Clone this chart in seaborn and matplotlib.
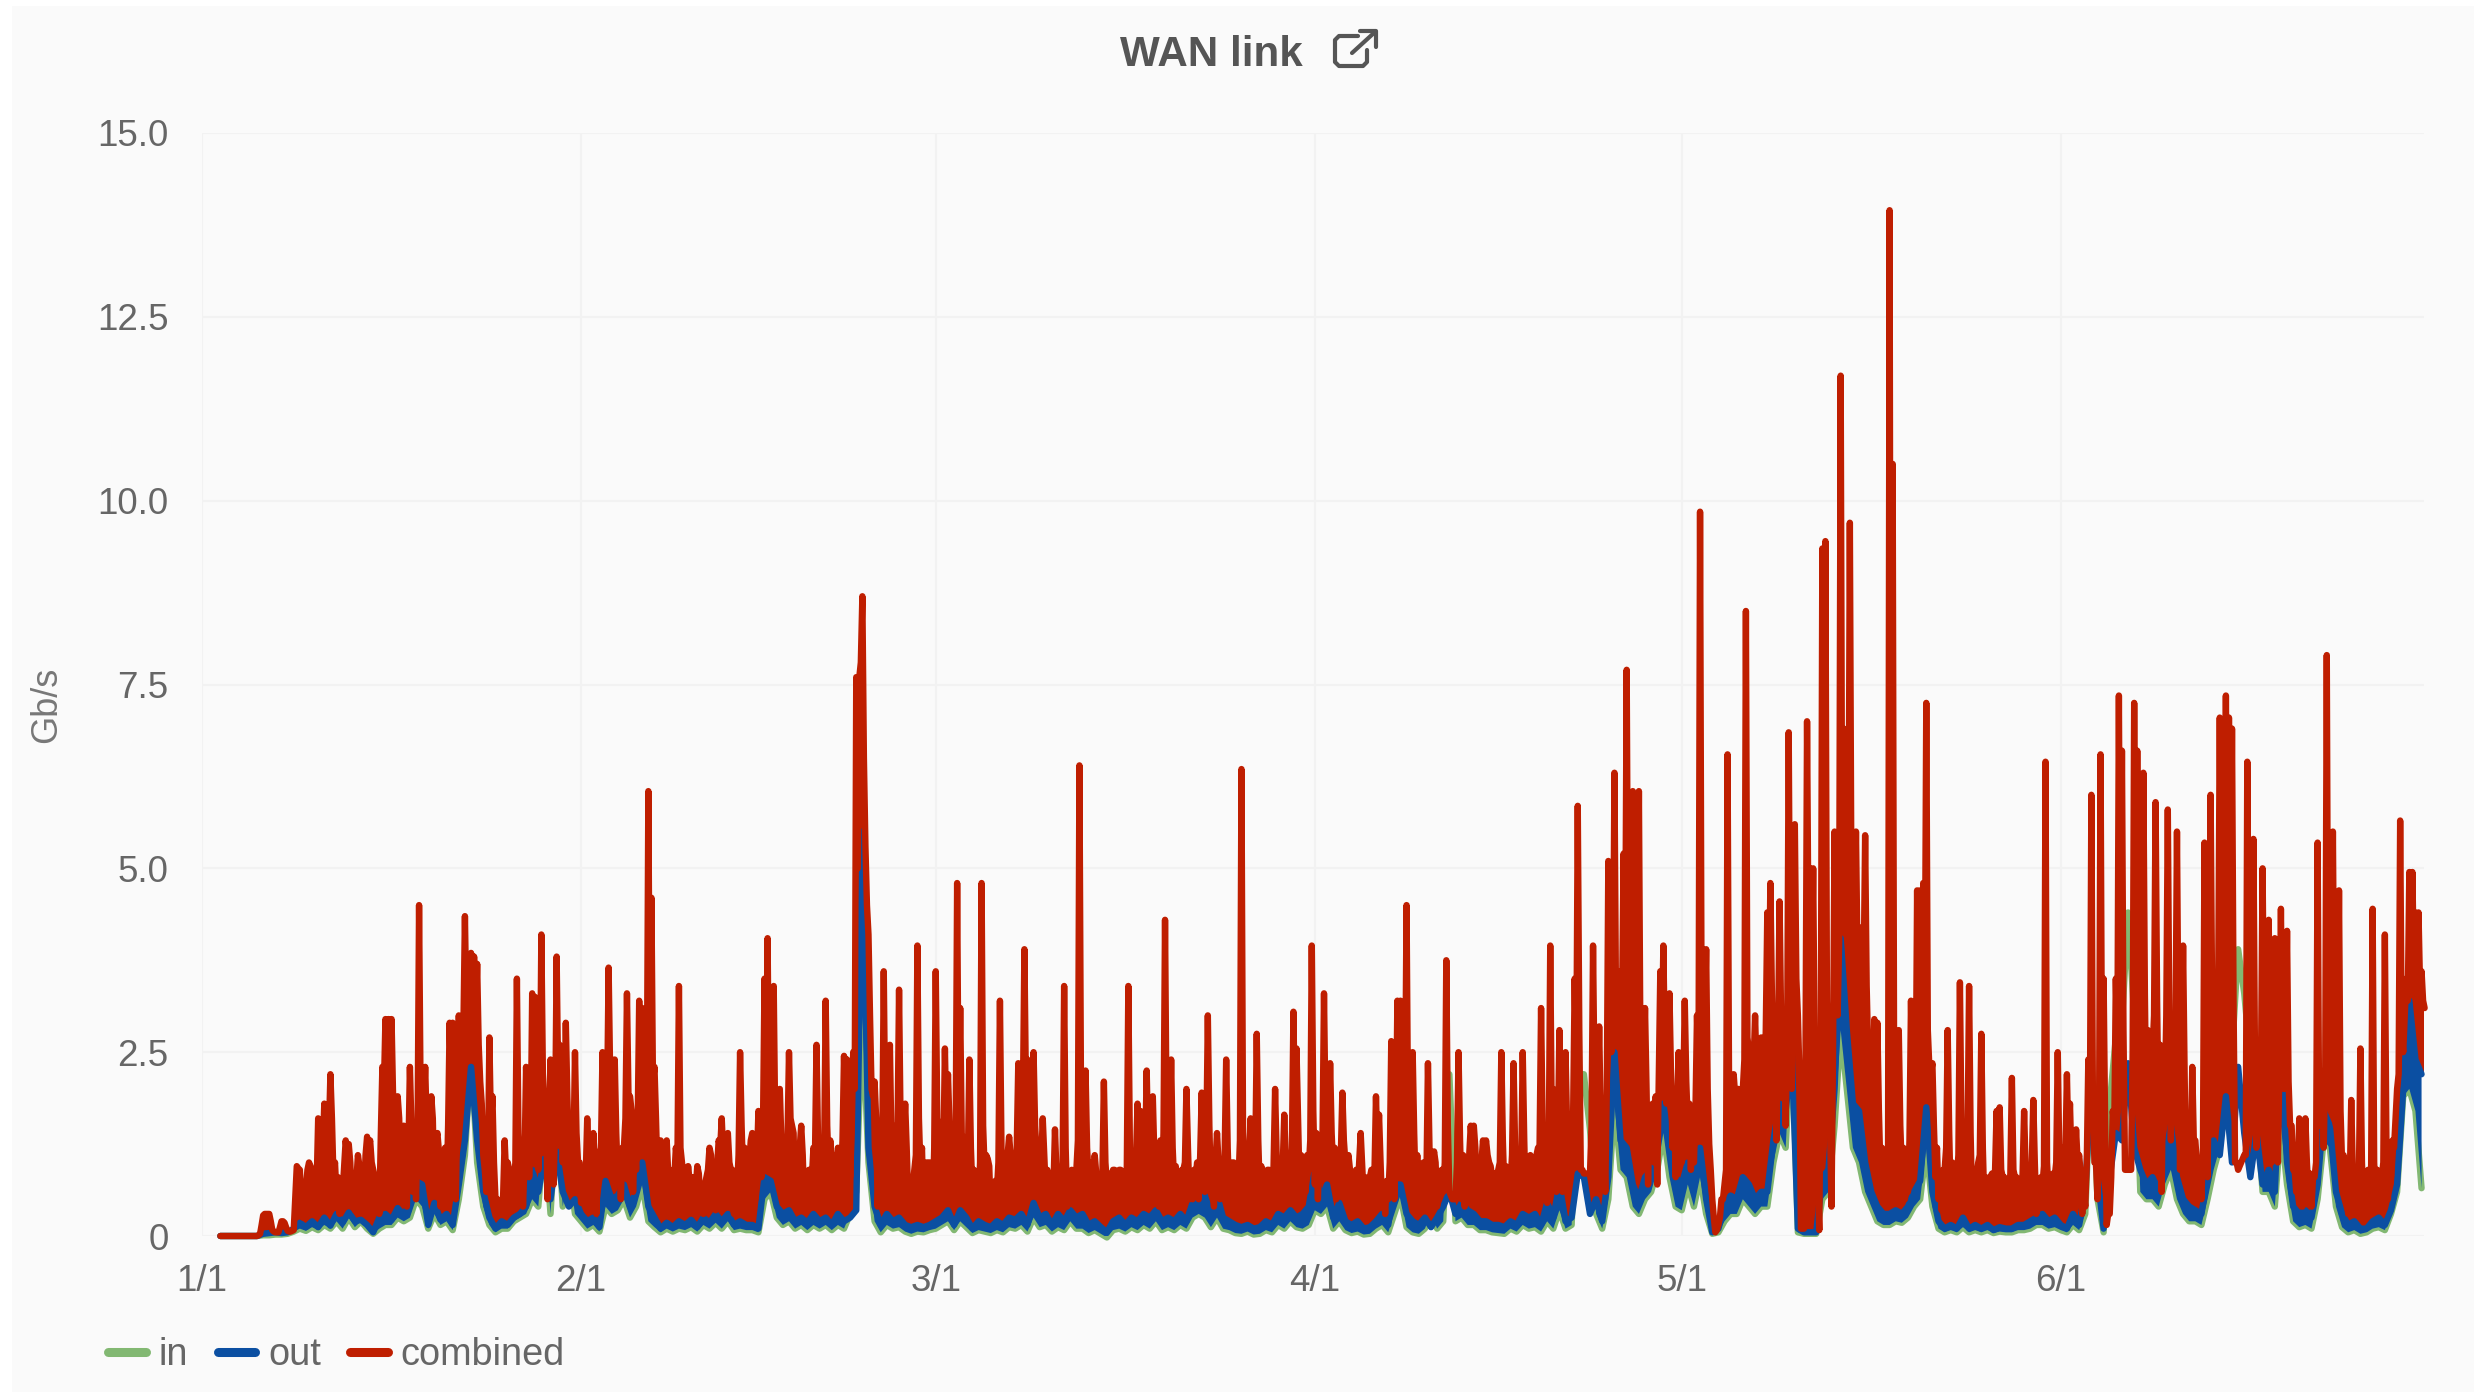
import matplotlib
matplotlib.use("Agg")
import matplotlib.pyplot as plt
from matplotlib.lines import Line2D
from matplotlib.patches import Rectangle
import numpy as np
import pandas as pd
import seaborn as sns

# readings start on day 1.5 of the year
# combined: spikes read at 00/06/12/18h, and the solid mass under them at 03/09/15/21h
combined_vals = [
    0, 0,
    0, 0, 0, 0,  0, 0, 0, 0,  0, 0, 0, .03,
    .28, .3, .3, .08,  .05, .05, .2, .18,  .07, .06, .08, .95,  .9, .25, .65, 1.0,
    .9, .28, 1.6, .6,  1.8, .9, 2.2, .8,  .55, .3, .6, 1.3,  1.25, .5, .35, 1.1,
    .55, .5, 1.35, 1.3,  .9, .4, .3, 2.3,  2.95, 2.95, 2.95, 1.4,  1.9, .5, 1.5, .4,
    2.3, .6, .5, 4.5,  .8, 2.3, 1.1, 1.9,  .6, 1.4, .4, .5,  .55, 2.9, 2.9, .5,
    3.0, 2.5, 4.35, 2.6,  3.85, 3.8, 3.7, 2.1,  1.1, .6, 2.7, 1.9,  .5, .28, .45, 1.3,
    1.0, .4, .7, 3.5,  .75, .4, 2.3, .8,  3.3, 3.25, .9, 4.1,  1.6, .5, 2.4, .7,
    3.8, 2.6, 1.0, 2.9,  1.1, .6, 2.5, 1.0,  .45, .5, 1.6, .4,  1.4, .3, 1.1, 2.5,
    1.5, 3.65, 2.4, 2.4,  .8, .5, 1.2, 3.3,  1.9, .6, .9, 3.2,  3.1, 1.2, 6.05, 4.6,
    2.3, .8, 1.3, .6,  1.3, .5, .9, 1.2,  3.4, 1.0, .35, .95,  .7, .3, .95, .5,
    .3, .8, 1.2, .5,  .35, 1.3, 1.6, .5,  1.4, .9, .3, .6,  2.5, .8, .4, 1.0,
    1.4, .5, 1.7, .8,  3.5, 4.05, 1.2, 3.4,  .9, 2.0, .5, .9,  2.5, 1.5, .5, 1.0,
    1.5, .4, .7, .4,  1.2, 2.6, .7, .5,  3.2, .9, 1.0, .4,  1.2, .7, 2.45, 2.4,
    .8, 2.5, 7.6, 7.6,  8.7, 5.3, 4.1, 2.0,  2.1, .4, .6, 3.6,  1.0, 2.6, .45, 1.5,
    3.35, .8, 1.8, .5,  .3, .9, 3.95, .9,  .3, 1.0, 1.0, .3,  3.6, 1.5, .5, 2.55,
    2.2, .7, .5, 4.8,  3.1, 1.2, .5, 2.4,  .6, .4, .5, 4.8,  .9, 1.05, .3, .4,
    .6, 3.2, .5, .5,  1.35, .7, .5, 2.35,  2.2, 3.9, 2.4, 1.1,  2.5, 1.1, .6, 1.6,
    .6, .4, .35, 1.45,  .5, .4, 3.4, .4,  .7, .45, .9, 6.4,  1.2, 2.25, .8, .45,
    1.1, .5, .35, 2.1,  .7, .4, .9, .5,  .9, .4, .5, 3.4,  .8, .45, 1.8, 1.7,
    .5, 2.25, .5, 1.9,  .6, .4, .7, 4.3,  .9, 2.4, .7, .4,  .5, .9, 2.0, .5,
    .5, .8, .5, 1.95,  .6, 3.0, .6, .4,  1.4, .5, .6, 2.4,  .5, 1.0, .4, .7,
    6.35, .9, .5, 1.6,  .45, 2.75, .6, .35,  .6, .9, .4, 2.0,  .5, .4, 1.65, .5,
    .6, 3.05, 2.55, .7,  .45, .6, .9, 3.95,  .7, .5, 1.2, 3.3,  .8, 2.35, .9, .5,
    .8, 1.95, 1.0, 1.1,  .45, .5, .6, 1.4,  .5, .35, .8, .4,  1.9, 1.65, .4, .3,
    .5, 2.65, .5, 3.2,  3.2, 1.8, 4.5, .7,  2.5, .6, .4, .7,  .35, 2.35, .5, 1.15,
    .4, .7, .6, 3.75,  .6, .5, .5, 2.5,  .5, .4, 1.0, 1.5,  1.5, .6, .7, 1.3,
    1.3, 1.0, .8, .4,  .9, 2.5, .6, .35,  .7, 2.35, .5, .4,  2.5, .4, 1.0, .5,
    .8, 1.2, 3.1, .9,  .45, 3.95, 2.0, .6,  2.8, .6, 2.5, .8,  1.0, 3.5, 5.85, .9,
    .85, .85, .85, 3.95,  1.0, 2.85, .8, .6,  5.1, 2.5, 6.3, 3.0,  3.6, 5.2, 7.7, 3.2,
    6.05, 2.5, 6.05, 1.5,  3.1, .7, 1.3, 1.0,  .7, 3.6, 3.95, 1.8,  3.3, 1.2, .8, 2.5,
    1.0, 3.2, 1.5, .9,  1.0, 3.0, 9.85, 3.9,  3.9, 1.25, .5, .05,  .15, .5, .7, 6.55,
    1.0, 2.2, 1.3, 1.5,  2.0, 8.5, 2.5, 1.5,  3.0, 1.2, 2.7, 1.7,  4.4, 4.8, 2.0, 1.3,
    4.55, 3.0, 1.5, 6.85,  2.0, 5.6, 3.0, .1,  .1, 7.0, 5.0, 5.0,  2.0, .08, 9.35, 9.45,
    2.0, .4, 5.5, 3.0,  11.7, 6.9, 5.0, 9.7,  4.5, 5.5, 3.0, 4.2,  5.45, 2.5, 1.3, 2.95,
    2.9, .9, .6, .5,  13.95, 10.5, .6, 2.8,  .9, .5, .6, 3.2,  1.4, 4.7, 4.7, 4.8,
    7.25, 2.3, 2.35, .8,  .5, .35, .9, 2.8,  .5, .3, .8, 3.45,  1.2, .5, 3.4, .4,
    .4, 1.0, 2.75, .4,  .5, .8, .3, 1.7,  1.75, .8, .4, .5,  2.15, .8, .3, .5,
    1.7, .5, .8, 1.85,  .3, .4, .7, 6.45,  .6, .5, .8, 2.5,  .4, 1.2, 2.2, 1.8,
    .5, 1.45, 1.1, .3,  .4, 2.4, 6.0, 1.0,  .5, 6.55, 3.5, .15,  .3, 1.7, 3.5, 7.35,
    6.6, .9, .9, .9,  7.25, 6.6, 1.5, 6.3,  1.5, 1.0, 2.5, 5.9,  1.5, .6, 1.8, 5.8,
    1.3, 1.6, 5.5, .9,  3.95, .7, .6, 2.3,  1.3, .5, .5, 5.35,  .8, 6.0, 3.0, 2.5,
    7.05, 5.0, 7.35, 7.05,  6.9, 1.0, .9, 1.0,  1.1, 6.45, 2.0, 5.4,  1.2, 1.5, 5.0, 1.3,
    4.3, 1.0, 4.05, 1.0,  4.45, 2.0, 4.15, 1.5,  .9, .6, 1.6, .4,  1.6, .6, .4, .8,
    5.35, 1.5, 1.2, 7.9,  3.5, 5.5, 1.5, 4.7,  1.0, .5, .3, 1.85,  .4, .3, 2.55, .4,
    .5, .4, 4.45, .5,  .35, .8, 4.1, .5,  .8, 1.2, 2.0, 5.65,  2.5, 3.5, 4.95, 4.95,
    4.4, 4.4, 3.6, 3.1,
]
combined_mass = [
    0, 0,
    0, 0, 0, 0,  0, 0, 0, 0,  0, 0, .01, .15,
    .3, .3, .2, .06,  .05, .12, .2, .12,  .06, .07, .5, .92,  .5, .5, .9, .95,
    .85, .7, 1.0, 1.15,  1.5, 1.4, 1.6, 1.0,  .8, .7, .95, 1.1,  1.0, .8, .75, .95,
    .85, 1.1, 1.2, 1.0,  .8, .6, 1.4, 2.0,  2.3, 2.1, 1.9, 1.7,  1.6, 1.3, 1.2, 1.1,
    1.5, 1.2, 1.35, 1.9,  1.7, 1.5, 1.4, 1.6,  1.3, 1.15, 1.0, 1.2,  1.5, 2.0, 1.7, 1.6,
    2.2, 2.8, 3.0, 2.9,  3.2, 2.9, 2.6, 1.8,  .9, .8, 1.5, 1.0,  .5, .4, .55, .8,
    .9, .7, 1.0, 1.4,  1.2, 1.0, 1.5, 1.3,  1.9, 2.0, 1.7, 2.2,  1.9, 1.6, 1.8, 1.5,
    2.1, 1.9, 1.6, 1.9,  1.3, 1.1, 1.4, 1.0,  .85, .8, 1.0, .75,  1.0, .9, 1.2, 1.5,
    1.8, 2.2, 1.9, 1.4,  1.1, 1.2, 1.6, 1.9,  1.7, 1.3, 1.5, 1.9,  2.0, 1.9, 2.3, 2.1,
    1.6, 1.2, 1.1, .95,  .85, .7, .8, 1.0,  1.2, .8, .6, .75,  .8, .65, .85, .6,
    .7, .9, 1.1, .8,  .95, 1.2, 1.1, 1.0,  1.0, .9, .7, 1.1,  1.5, 1.2, 1.0, 1.3,
    1.2, 1.0, 1.3, 1.5,  1.9, 1.7, 1.6, 1.5,  1.4, 1.3, 1.1, 1.3,  1.6, 1.4, 1.0, 1.2,
    1.1, .85, .9, .8,  1.1, 1.3, 1.0, 1.1,  1.5, 1.3, 1.1, .9,  1.1, 1.3, 1.5, 1.4,
    1.4, 2.0, 5.0, 7.8,  6.5, 4.5, 3.0, 1.9,  1.6, 1.0, 1.2, 1.5,  1.4, 1.3, 1.1, 1.4,
    1.5, 1.3, 1.2, .8,  .7, 1.1, 1.6, 1.2,  .8, 1.0, .75, 1.2,  1.6, 1.2, 1.1, 1.4,
    1.5, 1.1, 1.2, 1.5,  1.4, 1.1, 1.0, 1.2,  .9, .8, 1.0, 1.5,  1.1, .95, .7, .75,
    1.0, 1.2, .9, 1.1,  1.1, .9, 1.2, 1.5,  1.8, 2.0, 1.7, 1.4,  1.5, 1.2, 1.0, 1.1,
    .9, .7, .65, .85,  .7, 1.0, 1.2, .8,  .9, .8, 1.3, 2.0,  1.4, 1.2, 1.0, .8,
    .85, .7, .8, 1.0,  .85, .75, .9, .8,  .9, .7, .95, 1.2,  1.0, 1.05, 1.3, 1.2,
    1.1, 1.2, 1.0, 1.1,  1.2, 1.3, 1.4, 1.6,  1.3, 1.2, .95, .75,  .9, 1.0, 1.2, .85,
    .9, 1.0, 1.1, 1.0,  1.3, 1.5, 1.1, 1.0,  1.0, .85, 1.1, 1.2,  .9, 1.0, .85, 1.3,
    1.5, 1.1, .95, 1.1,  1.0, 1.3, .95, .8,  .9, .85, .95, 1.1,  .85, .95, 1.0, .9,
    1.2, 1.5, 1.6, 1.1,  .9, 1.1, 1.3, 1.7,  1.4, 1.2, 1.3, 1.6,  1.3, 1.4, 1.2, 1.0,
    1.1, 1.3, 1.0, .9,  .75, .9, 1.0, .95,  .8, .7, .9, .85,  1.1, 1.0, .7, .75,
    1.0, 1.5, 1.3, 1.8,  1.9, 1.7, 1.6, 1.3,  1.4, 1.1, .9, 1.0,  .8, 1.2, 1.0, 1.0,
    .85, .9, 1.0, 1.5,  .55, .5, 1.0, 1.3,  1.1, .9, 1.1, 1.2,  1.2, .9, 1.0, 1.1,
    1.1, .95, .85, .8,  1.0, 1.3, .95, .8,  1.1, 1.2, .85, .95,  1.3, 1.0, 1.1, .9,
    1.1, 1.2, 1.5, 1.2,  1.1, 1.5, 1.6, 1.3,  1.5, 1.4, 1.5, 1.3,  1.7, 2.2, 2.8, .9,
    .85, .85, 1.5, 2.0,  1.7, 1.6, 1.5, 2.0,  2.8, 3.0, 3.2, 2.9,  3.2, 3.5, 3.6, 3.1,
    3.0, 2.8, 2.5, 2.2,  2.0, 1.7, 1.8, 1.9,  2.2, 2.6, 2.5, 2.2,  2.2, 1.9, 1.8, 1.9,
    1.9, 2.1, 1.8, 1.6,  1.7, 2.2, 3.0, 2.8,  2.0, .9, .25, .08,  .25, .5, .9, 1.9,
    1.8, 1.9, 2.0, 1.9,  2.4, 2.7, 2.2, 2.3,  2.2, 2.1, 2.6, 2.8,  3.0, 3.3, 2.8, 2.6,
    3.0, 2.8, 2.7, 3.2,  3.0, 3.5, 2.2, .1,  2.5, 3.8, 3.2, 2.5,  .8, 2.5, 3.5, 3.2,
    1.5, 2.5, 3.5, 4.0,  4.8, 4.5, 4.2, 4.8,  4.0, 3.8, 3.6, 3.5,  3.4, 2.2, 2.0, 1.9,
    1.7, 1.2, .9, 1.1,  1.3, 1.8, 1.2, 1.5,  1.2, 1.0, 1.3, 1.8,  1.6, 2.2, 2.6, 3.0,
    2.8, 2.2, 1.5, 1.2,  .85, .9, 1.2, 1.4,  1.0, .85, 1.1, 1.5,  1.2, 1.3, 1.4, .9,
    .85, 1.1, 1.2, .8,  .75, .85, .9, 1.0,  .9, .8, .7, .85,  .9, .8, .7, .85,
    .9, .85, .95, 1.0,  .75, .8, .95, 1.0,  .8, .85, 1.0, 1.1,  .9, 1.1, 1.2, 1.0,
    .9, 1.0, .85, .6,  1.0, 1.5, 1.8, 1.0,  1.4, 1.9, 1.5, .3,  .8, 1.5, 2.5, 3.0,
    2.8, .9, .9, 2.5,  3.2, 3.5, 3.0, 3.3,  2.8, 2.6, 3.0, 3.2,  2.6, 2.4, 3.0, 2.9,
    2.5, 2.7, 2.6, 2.3,  2.2, 1.5, 1.1, 1.3,  1.0, .8, 1.2, 1.9,  2.5, 3.2, 3.4, 3.5,
    3.8, 3.9, 4.2, 3.7,  3.2, 1.0, .95, 1.05,  1.1, 3.0, 2.8, 2.5,  2.2, 2.4, 2.6, 2.3,
    2.5, 2.2, 2.4, 2.3,  2.2, 2.4, 2.1, 1.5,  .9, .85, 1.0, .9,  1.0, .85, .8, 1.0,
    1.5, 2.2, 2.3, 2.4,  2.6, 2.5, 2.0, 1.7,  1.1, .8, .7, .9,  .85, .8, 1.0, .85,
    .9, .85, 1.0, .9,  .85, 1.0, 1.3, 1.2,  1.3, 1.6, 2.2, 2.8,  3.0, 3.2, 3.5, 3.6,
    3.6, 3.4, 3.2,
]

# in and out are read every 12 hours
out_vals = [
    0,
    0, 0, 0, 0, 0, 0, .03, .04, .05, .04, .05, .1, .18, .12, .2, .12,
    .25, .14, .3, .18, .32, .2, .22, .15, .05, .25, .3, .22, .38, .28, .45, .75,
    .7, .15, .45, .22, .3, .15, .7, 1.3, 2.3, 1.3, .6, .25, .1, .2, .15, .25,
    .3, .4, .9, .6, 1.05, .5, 1.15, .6, .4, .5, .3, .2, .25, .12, .75, .5,
    .55, .7, .4, .6, 1.0, .4, .25, .1, .18, .12, .2, .15, .22, .12, .25, .18,
    .3, .2, .3, .15, .2, .15, .15, .1, .8, .75, .4, .3, .35, .2, .25, .18,
    .3, .2, .25, .15, .3, .2, .25, .35, 5.5, 1.2, .4, .15, .3, .2, .25, .15,
    .12, .15, .12, .15, .2, .25, .35, .15, .35, .25, .1, .2, .15, .12, .2, .15,
    .25, .22, .3, .15, .45, .25, .3, .15, .3, .2, .35, .25, .3, .15, .2, .12,
    .05, .2, .25, .15, .25, .2, .3, .25, .35, .2, .25, .2, .3, .2, .45, .6,
    .55, .3, .55, .25, .2, .15, .12, .15, .1, .12, .2, .15, .3, .25, .35, .25,
    .3, .4, .9, .5, .7, .25, .45, .2, .15, .2, .1, .12, .2, .3, .15, .7,
    .7, .3, .2, .15, .25, .12, .25, .4, .6, .3, .45, .35, .3, .2, .2, .15,
    .15, .12, .2, .15, .3, .25, .3, .15, .45, .25, .7, .2, .25, .85, .8, .3,
    .5, .2, .8, 2.5, 1.3, 1.2, .7, .5, .8, .9, 1.3, 1.8, 1.2, .8, .7, 1.0,
    .7, 1.2, .5, .05, .1, .4, .55, .5, .8, .7, .5, .6, .6, 1.3, 1.8, 1.7,
    2.5, .1, .05, .05, .05, .8, .9, 2.0, 4.05, 2.8, 1.8, 1.7, 1.0, .6, .4, .3,
    .3, .35, .3, .4, .6, .75, 1.75, .6, .2, .1, .15, .1, .25, .1, .15, .1,
    .15, .08, .12, .1, .1, .15, .15, .2, .25, .3, .2, .25, .15, .1, .3, .15,
    .6, 2.2, .8, .1, .8, 1.4, 1.3, 2.35, 1.2, .9, .7, .8, .6, 1.0, 1.5, .8,
    .5, .4, .35, .3, .8, 1.3, 1.1, 1.9, 1.0, 2.3, 1.4, .8, 1.4, .7, .9, .6,
    2.45, 1.0, .4, .3, .35, .25, .7, 1.7, 1.5, .6, .3, .15, .2, .1, .1, .2,
    .25, .15, .35, .7, 2.0, 3.2, 2.4, 2.2,
]
in_vals = [
    0,
    0, 0, 0, 0, 0, 0, .01, .01, .02, .02, .03, .06, .1, .07, .12, .08,
    .15, .1, .2, .1, .25, .12, .2, .1, .03, .1, .15, .15, .25, .2, .25, .5,
    .4, .1, .3, .15, .2, .08, .5, 1.1, 2.5, 1.0, .4, .15, .05, .1, .1, .2,
    .25, .3, .5, .4, 1.4, .3, 1.7, .4, .9, .3, .2, .1, .15, .06, .4, .3,
    .35, .5, .25, .4, .7, .2, .12, .05, .1, .06, .1, .08, .12, .06, .15, .1,
    .18, .1, .2, .08, .1, .08, .08, .05, .5, .6, .25, .15, .2, .1, .15, .08,
    .15, .1, .15, .08, .15, .1, .3, .6, 3.0, 1.0, .2, .05, .15, .1, .12, .06,
    .03, .06, .05, .08, .1, .15, .2, .08, .2, .12, .04, .08, .06, .04, .08, .05,
    .12, .1, .15, .06, .25, .12, .15, .06, .12, .08, .2, .1, .1, .04, .08, .03,
    -.02, .08, .1, .06, .12, .08, .15, .1, .2, .08, .12, .08, .15, .1, .25, .3,
    .25, .12, .25, .1, .08, .04, .03, .06, .02, .03, .08, .05, .15, .1, .2, .12,
    .1, .15, .35, .3, .4, .1, .2, .08, .04, .06, .02, .03, .1, .15, .05, .3,
    .55, .12, .05, .03, .1, .3, .1, .2, 2.2, .2, .25, .15, .15, .08, .08, .05,
    .04, .03, .1, .06, .15, .1, .12, .06, .2, .1, .35, .1, .15, 2.2, 2.2, 1.45,
    .3, .1, .5, 1.8, .9, .8, .4, .3, .5, .6, .9, 1.4, .8, .4, .35, .7,
    .4, .8, .3, .03, .05, .2, .3, .3, .5, .4, .3, .4, .4, 1.0, 1.4, 1.2,
    2.8, .05, .03, .03, .03, .5, .6, 1.5, 2.8, 2.0, 1.2, 1.0, .6, .4, .2, .15,
    .15, .2, .18, .25, .4, .5, 1.2, .4, .1, .05, .08, .05, .12, .05, .08, .05,
    .08, .04, .06, .05, .05, .08, .08, .1, .15, .15, .1, .12, .08, .05, .15, .08,
    .3, 2.4, .5, .05, 1.8, 2.7, 2.9, 4.4, 3.0, .6, .5, .5, .4, .7, .9, .5,
    .3, .2, .2, .15, .5, .9, 1.2, 3.3, 2.5, 3.9, 3.3, 2.4, 1.7, .6, .6, .4,
    1.5, .7, .2, .12, .15, .1, .5, 1.3, 1.2, .4, .12, .05, .08, .03, .05, .1,
    .12, .08, .3, .6, 1.9, 2.0, 1.7, .65,
]

series_names = ["in", "out", "combined"]
series_colors = ["#82b872", "#0b4fa2", "#bf1e00"]
month_starts = ["2016-01-01", "2016-02-01", "2016-03-01", "2016-04-01", "2016-05-01", "2016-06-01"]
month_labels = ["1/1", "2/1", "3/1", "4/1", "5/1", "6/1"]
y_ticks = [0, 2.5, 5, 7.5, 10, 12.5, 15]
y_labels = ["0", "2.5", "5.0", "7.5", "10.0", "12.5", "15.0"]

W, H = 2474, 1392
FIRST = pd.Timestamp("2016-01-02 12:00")

# spike reading, then mass reading 3h later, and so on
combined_3h = []
for spike, mass in zip(combined_vals[:-1], combined_mass, strict=True):
    combined_3h += [spike, mass]
combined_3h.append(combined_vals[-1])

sns.set_theme(style="whitegrid")
plt.rcParams["font.family"] = ["Liberation Sans", "DejaVu Sans"]

fig = plt.figure(figsize=(W / 100, H / 100), dpi=100, facecolor="white")
fig.add_artist(Rectangle((12 / W, 0), 1, 1 - 6 / H, transform=fig.transFigure, facecolor="#fafafa", edgecolor="none", zorder=-5))
ax = fig.add_axes([202 / W, 1 - 1236 / H, (2424 - 202) / W, (1236 - 133) / H])
ax.set_facecolor("none")

when_12h = pd.date_range(FIRST, periods=len(out_vals), freq="12h")
when_3h = pd.date_range(FIRST, periods=len(combined_3h), freq="3h")
frames = [
    pd.DataFrame({"when": when_12h, "gbps": in_vals}),
    pd.DataFrame({"when": when_12h, "gbps": out_vals}),
    pd.DataFrame({"when": when_3h, "gbps": combined_3h}),
]
for df, name, col, z in zip(frames, series_names, series_colors, [2.0, 2.2, 2.3]):
    sns.lineplot(data=df, x="when", y="gbps", ax=ax, color=col, linewidth=4.6, label=name, zorder=z,
                 estimator=None, clip_on=False, solid_capstyle="round", solid_joinstyle="round")

# the real traces swing faster than can be read, so shade the solid bands they leave
out_arr = np.array(out_vals)
in_arr = np.array(in_vals)
ax.fill_between(when_12h, in_arr, out_arr, where=out_arr > in_arr, interpolate=True,
                color=series_colors[1], linewidth=0, zorder=2.1)
out_on_3h = np.interp(when_3h.asi8, when_12h.asi8, out_arr)
comb_arr = np.array(combined_3h)
ax.fill_between(when_3h, out_on_3h, comb_arr, where=comb_arr > out_on_3h, interpolate=True,
                color=series_colors[2], linewidth=0, zorder=2.15)

ax.set_ylim(0, 15)
ax.set_xlim(pd.Timestamp("2016-01-01"), pd.Timestamp("2016-01-01") + pd.Timedelta(days=181.7))
ax.set_xticks(pd.to_datetime(month_starts))
ax.set_xticklabels(month_labels)
ax.set_yticks(y_ticks)
ax.set_yticklabels(y_labels)
ax.set_xlabel("")
ax.set_ylabel("")
ax.grid(True, color="#f2f2f2", linewidth=1.6)
ax.set_axisbelow(True)
for s in ax.spines.values():
    s.set_visible(False)
ax.tick_params(axis="y", length=13, width=1.6, color="#f2f2f2", labelcolor="#666666", labelsize=26.5, pad=11)
ax.tick_params(axis="x", length=0, labelcolor="#666666", labelsize=26.5, pad=20)

leg = ax.legend(loc="lower left", bbox_to_anchor=(108 / W, 1 - 1373 / H), bbox_transform=fig.transFigure, ncol=3,
                frameon=False, fontsize=27.3, handlelength=1.0, handletextpad=.33, columnspacing=.78,
                borderpad=0, borderaxespad=0, labelcolor="#666666")
for h in leg.legend_handles:
    h.set_linewidth(6.5)

fig.text(1211 / W, 1 - 55 / H, "WAN link", fontsize=30.3, fontweight="bold", color="#555555", ha="center", va="center")
fig.text(47 / W, 1 - 705 / H, "Gb/s", fontsize=26, color="#777777", rotation=90, ha="center", va="center")

# external link icon beside the title
def icon_line(xs, ys):
    fig.add_artist(Line2D([x / W for x in xs], [1 - y / H for y in ys], color="#555555", linewidth=3,
                          solid_capstyle="round", solid_joinstyle="round", transform=fig.transFigure))

icon_line([1358, 1339, 1335, 1335, 1339, 1363, 1367, 1367], [36, 36, 40, 62, 66, 66, 62, 50])
icon_line([1352, 1375], [53, 32])
icon_line([1360, 1376, 1376], [31, 31, 47])

fig.savefig("out.png", dpi=100, facecolor=fig.get_facecolor())
